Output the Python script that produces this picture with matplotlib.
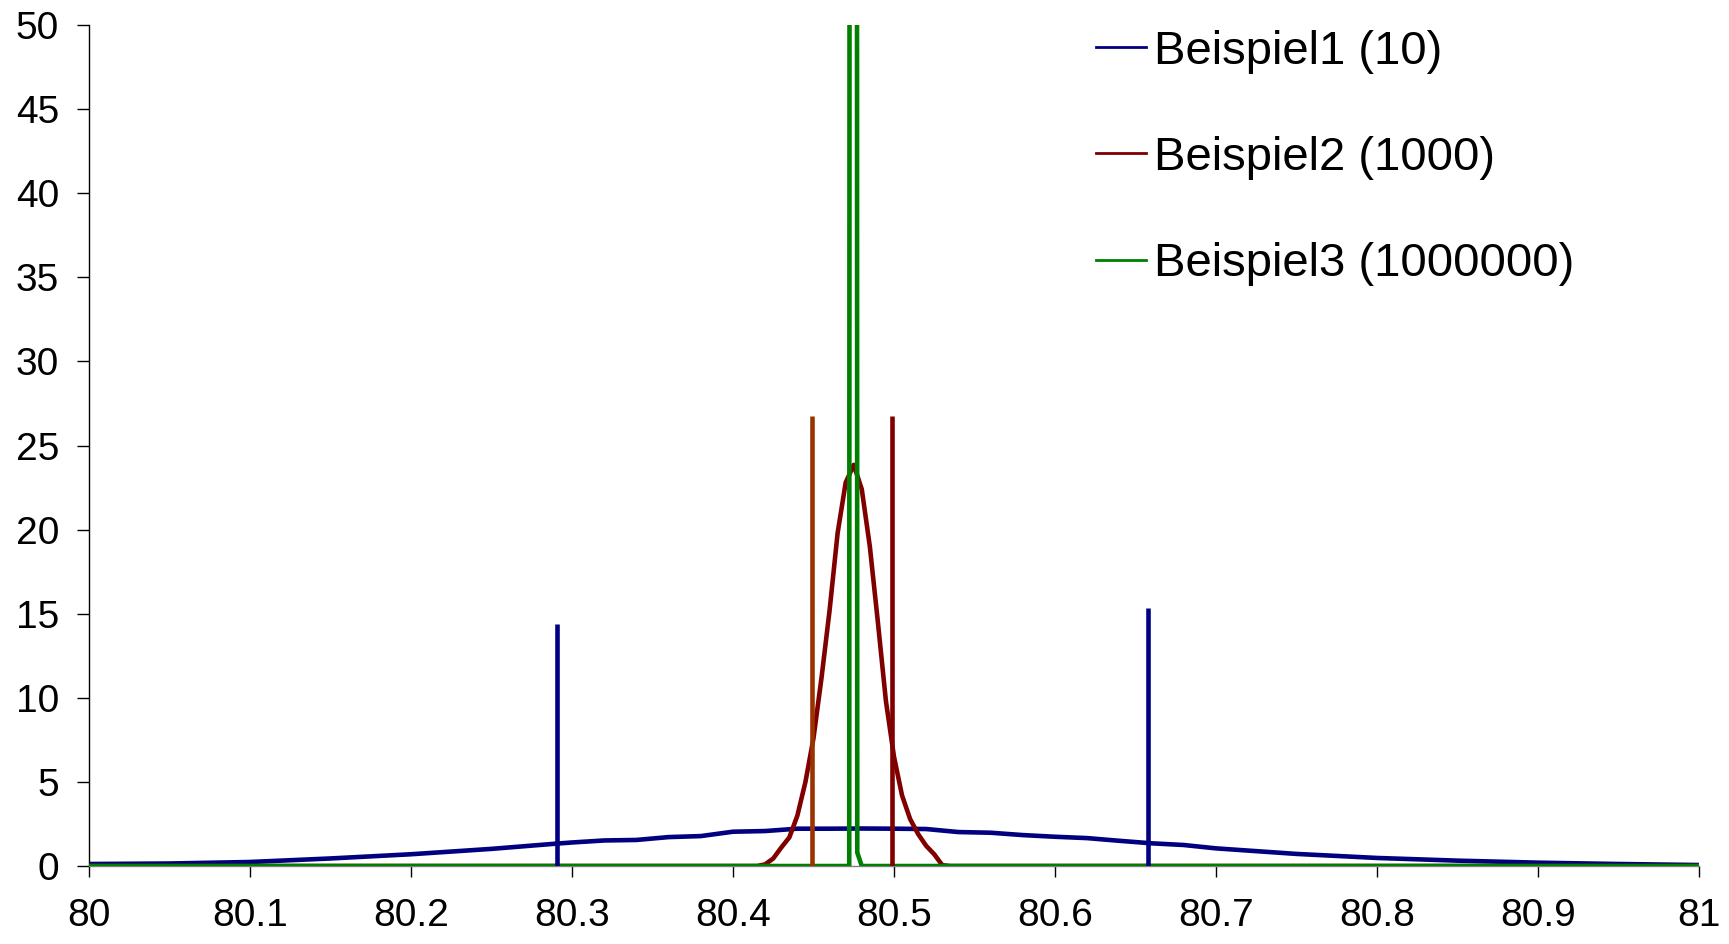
import matplotlib
matplotlib.use("Agg")
import matplotlib.pyplot as plt
from matplotlib.lines import Line2D

plt.rcParams['font.family'] = ['Liberation Sans', 'DejaVu Sans']

# Beispiel1 (n = 10): density curve
b1_x = [80.0, 80.05, 80.1, 80.15, 80.2, 80.25, 80.29, 80.3, 80.32, 80.34, 80.36,
        80.38, 80.40, 80.42, 80.44, 80.46, 80.48, 80.50, 80.52, 80.54, 80.56,
        80.58, 80.60, 80.62, 80.64, 80.66, 80.68, 80.70, 80.75, 80.80, 80.85,
        80.90, 80.95, 81.0]
b1_y = [0.12, 0.15, 0.24, 0.45, 0.70, 1.02, 1.33, 1.40, 1.52, 1.55, 1.72,
        1.78, 2.04, 2.08, 2.22, 2.22, 2.23, 2.22, 2.20, 2.02, 1.98,
        1.84, 1.74, 1.66, 1.50, 1.35, 1.25, 1.05, 0.72, 0.48, 0.32,
        0.20, 0.12, 0.06]

# Beispiel2 (n = 1000): density curve
b2_x = [80.0, 80.415, 80.42, 80.425, 80.43, 80.435, 80.44, 80.445, 80.45, 80.455,
        80.46, 80.465, 80.47, 80.475, 80.48, 80.485, 80.49, 80.495, 80.50,
        80.505, 80.51, 80.515, 80.52, 80.525, 80.53, 80.535, 81.0]
b2_y = [0.0, 0.0, 0.1, 0.45, 1.1, 1.7, 3.0, 5.0, 7.6, 11.2,
        15.2, 19.8, 22.8, 23.85, 22.4, 19.0, 14.5, 9.8, 6.5,
        4.2, 2.8, 1.9, 1.2, 0.7, 0.05, 0.0, 0.0]

# Beispiel3 (n = 1000000): density curve (peak far above the plotted range)
b3_x = [80.0, 80.4722, 80.4747, 80.4772, 80.4800, 81.0]
b3_y = [0.0, 0.0, 760.0, 0.8, 0.0, 0.0]

# Interval bounds (x position, height)
b1_bounds_x = [80.2905, 80.658]
b1_bounds_h = [14.37, 15.32]
b2_bounds_x = [80.449, 80.499]
b2_bounds_h = [26.78, 26.78]

labels = ["Beispiel1 (10)", "Beispiel2 (1000)", "Beispiel3 (1000000)"]
x_ticks = [80 + i / 10 for i in range(11)]
x_ticklabels = ["80", "80.1", "80.2", "80.3", "80.4", "80.5", "80.6", "80.7",
                "80.8", "80.9", "81"]
y_ticks = list(range(0, 51, 5))

navy = "#000080"
maroon = "#800000"
rust = "#993300"
green = "#008000"

fig = plt.figure(figsize=(17.29, 9.44), dpi=100)
ax = fig.add_axes([0.0515, 0.0826, 0.9311, 0.8909])

lw = 3.3
ax.plot(b1_x, b1_y, color=navy, lw=lw, zorder=2, solid_joinstyle='round')
ax.plot(b2_x, b2_y, color=maroon, lw=lw, zorder=3, solid_joinstyle='round')
ax.plot(b3_x, b3_y, color=green, lw=lw, zorder=4, solid_joinstyle='round')

ax.vlines(b1_bounds_x, 0, b1_bounds_h, colors=navy, lw=lw, zorder=5)
ax.vlines(b2_bounds_x[0], 0, b2_bounds_h[0], colors=rust, lw=lw, zorder=5)
ax.vlines(b2_bounds_x[1], 0, b2_bounds_h[1], colors=maroon, lw=lw, zorder=5)

ax.set_xlim(80, 81)
ax.set_ylim(0, 50)
ax.set_xticks(x_ticks)
ax.set_xticklabels(x_ticklabels)
ax.set_yticks(y_ticks)

for s in ("top", "right"):
    ax.spines[s].set_visible(False)
ax.spines["left"].set_color("black")
ax.spines["left"].set_linewidth(1.0)
ax.spines["bottom"].set_color("#808080")
ax.spines["bottom"].set_linewidth(1.0)

ax.tick_params(axis="x", direction="out", length=8, width=1, pad=15,
               labelsize=28, colors="black")
ax.tick_params(axis="y", direction="out", length=8.5, width=1, pad=13,
               labelsize=28, colors="black")

handles = [Line2D([], [], color=c, lw=2.0) for c in (navy, maroon, green)]
ax.legend(handles, labels, loc="upper left", bbox_to_anchor=(0.614, 1.017),
          frameon=False, fontsize=34, handlelength=1.06, handletextpad=0.17,
          labelspacing=1.32, borderaxespad=0)

fig.savefig("out.png", dpi=100, facecolor="white")
